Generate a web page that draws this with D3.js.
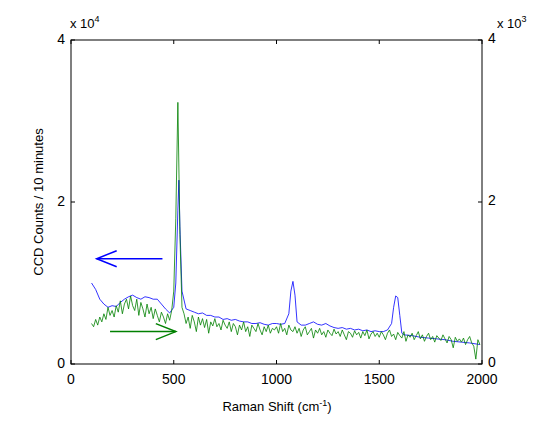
<!DOCTYPE html>
<html><head><meta charset="utf-8">
<script src="https://cdn.jsdelivr.net/npm/d3@7"></script>
<style>body{margin:0;background:#fff}</style></head>
<body><svg id="c" width="544" height="431"></svg>
<script>
const xTicks=[0,500,1000,1500,2000];
const yTicks=[0,2,4];
const greenStart=100, greenStep=10;
const greenVals=[0.50,0.46,0.55,0.48,0.58,0.52,0.62,0.55,0.70,0.60,
0.66,0.58,0.72,0.64,0.78,0.62,0.74,0.80,0.68,0.84,
0.72,0.66,0.80,0.60,0.76,0.68,0.58,0.74,0.62,0.70,
0.56,0.68,0.60,0.52,0.64,0.58,0.50,0.62,0.54,0.66,
0.90,1.80,3.23,1.60,0.70,0.62,0.50,0.58,0.44,0.60,
0.52,0.40,0.58,0.48,0.56,0.45,0.55,0.38,0.52,0.47,
0.56,0.46,0.50,0.42,0.54,0.48,0.44,0.52,0.40,0.50,
0.46,0.36,0.48,0.42,0.52,0.40,0.46,0.34,0.48,0.44,
0.40,0.50,0.42,0.36,0.46,0.40,0.48,0.38,0.44,0.42,
0.46,0.38,0.50,0.40,0.44,0.36,0.48,0.42,0.40,0.46,
0.38,0.44,0.34,0.42,0.46,0.36,0.40,0.44,0.32,0.42,
0.38,0.44,0.36,0.40,0.33,0.42,0.38,0.35,0.43,0.37,
0.40,0.34,0.42,0.36,0.30,0.40,0.38,0.33,0.41,0.36,
0.39,0.32,0.40,0.35,0.42,0.31,0.37,0.40,0.34,0.38,
0.33,0.40,0.36,0.30,0.38,0.42,0.34,0.37,0.30,0.39,
0.35,0.32,0.40,0.28,0.36,0.33,0.38,0.30,0.35,0.40,
0.31,0.36,0.28,0.34,0.38,0.30,0.34,0.27,0.35,0.32,
0.29,0.36,0.31,0.26,0.34,0.30,0.20,0.33,0.28,0.31,
0.27,0.32,0.24,0.30,0.34,0.26,0.22,0.06,0.30,0.24];
const blueX=[100,120,140,160,180,200,220,240,260,280,300,320,340,360,380,400,420,440,460,480,500,510,520,525,530,540,560,580,600,620,640,660,680,700,720,740,760,780,800,820,840,860,880,900,920,940,960,980,1000,1020,1040,1060,1070,1080,1090,1100,1120,1140,1160,1180,1200,1220,1240,1260,1280,1300,1320,1340,1360,1380,1400,1420,1440,1460,1480,1500,1520,1540,1560,1570,1580,1590,1600,1610,1620,1660,1700,1740,1780,1820,1860,1900,1940,1990];
const blueVals=[1.00,0.92,0.80,0.74,0.70,0.72,0.71,0.76,0.80,0.83,0.85,0.82,0.80,0.83,0.82,0.80,0.80,0.74,0.68,0.63,0.70,1.0,1.9,2.27,1.7,0.9,0.68,0.66,0.64,0.62,0.63,0.60,0.60,0.58,0.58,0.55,0.56,0.54,0.55,0.53,0.52,0.52,0.50,0.50,0.51,0.49,0.48,0.50,0.50,0.49,0.50,0.62,0.90,1.02,0.85,0.52,0.48,0.48,0.50,0.52,0.49,0.48,0.50,0.47,0.45,0.44,0.45,0.43,0.44,0.42,0.43,0.41,0.42,0.40,0.41,0.40,0.40,0.42,0.50,0.70,0.84,0.82,0.60,0.38,0.36,0.35,0.33,0.32,0.31,0.30,0.28,0.27,0.26,0.24];

const svg=d3.select('#c');
const L=71,R=482,T=40,B=364;
const x=d3.scaleLinear().domain([0,2000]).range([L,R]);
const y=d3.scaleLinear().domain([0,4]).range([B,T]);
const font='Liberation Sans, Arial, sans-serif';
const g=svg.append('g').attr('font-family',font);
g.append('rect').attr('x',L).attr('y',T).attr('width',R-L).attr('height',B-T).attr('fill','none').attr('stroke','#000');
xTicks.forEach(t=>{
  g.append('line').attr('x1',x(t)).attr('x2',x(t)).attr('y1',B).attr('y2',B-4).attr('stroke','#000');
  g.append('line').attr('x1',x(t)).attr('x2',x(t)).attr('y1',T).attr('y2',T+4).attr('stroke','#000');
  g.append('text').attr('x',x(t)).attr('y',B+20).attr('text-anchor','middle').attr('font-size',14).text(t);
});
yTicks.forEach(t=>{
  g.append('line').attr('x1',L).attr('x2',L+4).attr('y1',y(t)).attr('y2',y(t)).attr('stroke','#000');
  g.append('line').attr('x1',R).attr('x2',R-4).attr('y1',y(t)).attr('y2',y(t)).attr('stroke','#000');
  g.append('text').attr('x',L-6).attr('y',y(t)+4).attr('text-anchor','end').attr('font-size',14).text(t);
  g.append('text').attr('x',R+6).attr('y',y(t)+3).attr('text-anchor','start').attr('font-size',14).text(t);
});
function exp(xp,p){const t=g.append('text').attr('x',xp).attr('y',28).attr('font-size',13);
 t.append('tspan').text('x 10');t.append('tspan').attr('dy',-6).attr('font-size',9).text(p);}
exp(70,'4');exp(497,'3');
g.append('text').attr('transform','translate(43,202) rotate(-90)').attr('text-anchor','middle').attr('font-size',13).text('CCD Counts / 10 minutes');
const xl=g.append('text').attr('x',277).attr('y',411).attr('text-anchor','middle').attr('font-size',13);
xl.append('tspan').text('Raman Shift (cm');xl.append('tspan').attr('dy',-5).attr('font-size',9).text('-1');xl.append('tspan').attr('dy',5).text(')');

const line=d3.line().x(d=>x(d[0])).y(d=>y(d[1]));
svg.append('path').datum(blueX.map((v,i)=>[v,blueVals[i]])).attr('d',line).attr('fill','none').attr('stroke','#0000ff').attr('stroke-width',0.8);
svg.append('path').datum(greenVals.map((v,i)=>[greenStart+i*greenStep,v])).attr('d',line).attr('fill','none').attr('stroke','#008000').attr('stroke-width',0.8);
function arrow(x1,x2,yv,c){
  svg.append('line').attr('x1',x(x1)).attr('x2',x(x2)).attr('y1',y(yv)).attr('y2',y(yv)).attr('stroke',c).attr('stroke-width',1.5);
  const d=x2>x1?-1:1, px=x(x2), py=y(yv);
  svg.append('path').attr('d',`M${px+d*20},${py-8}L${px},${py}L${px+d*20},${py+8}`).attr('fill','none').attr('stroke',c).attr('stroke-width',1.5);
}
arrow(445,125,1.3,'#0000ff');
arrow(190,510,0.40,'#008000');
</script></body></html>
